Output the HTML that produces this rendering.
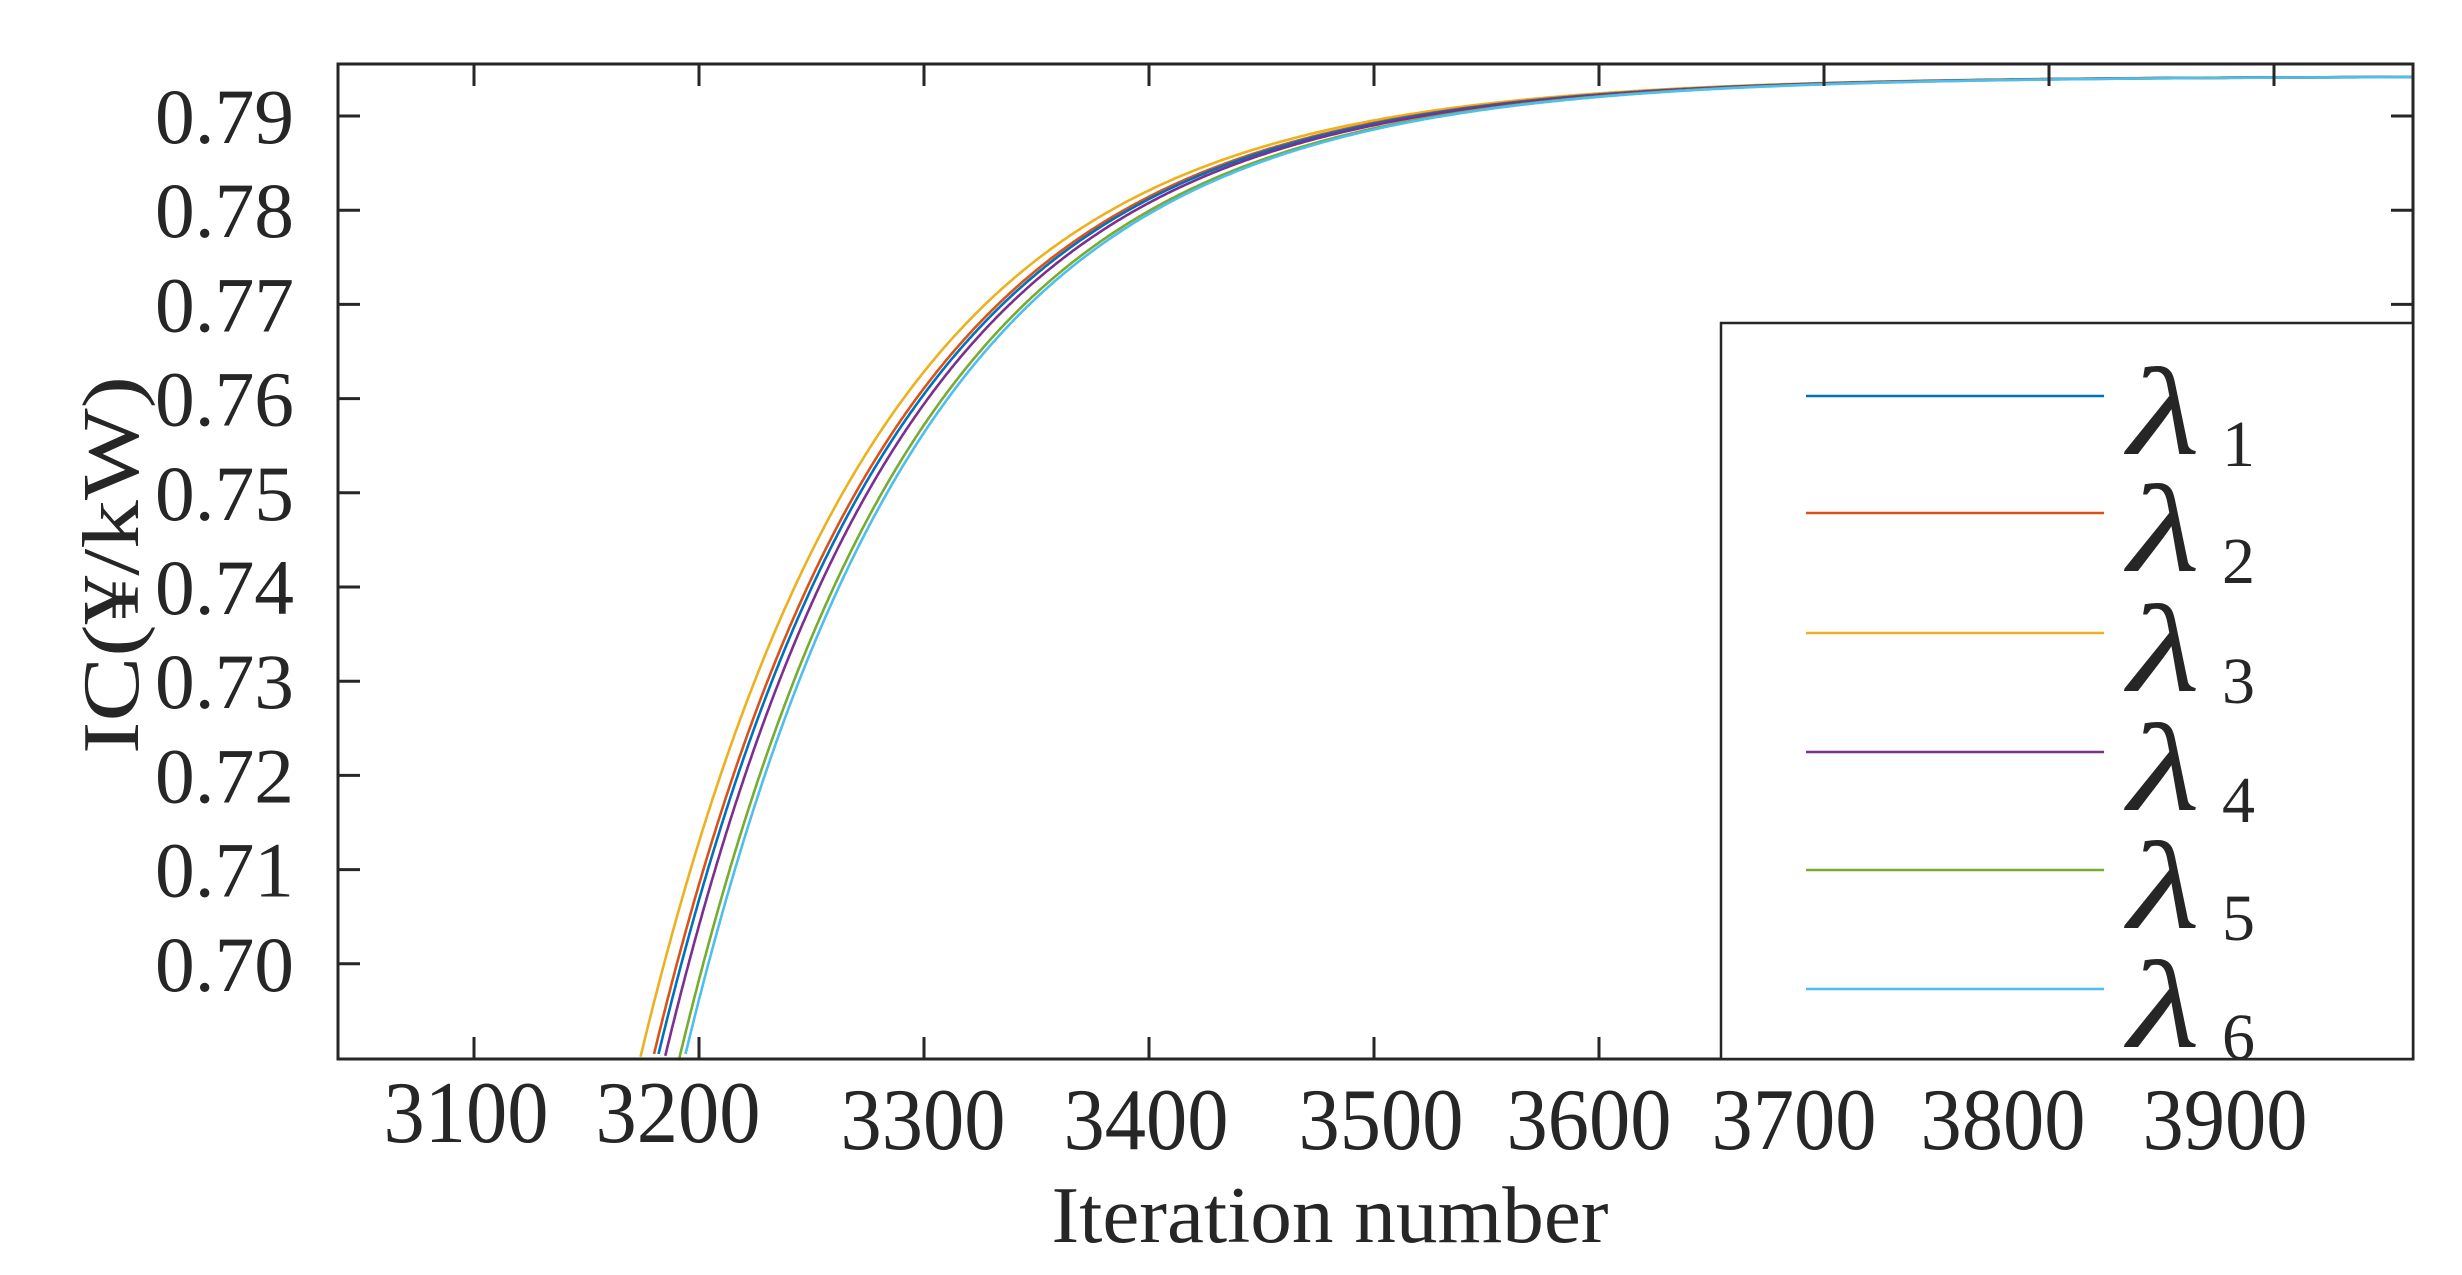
<!DOCTYPE html>
<html><head><meta charset="utf-8"><style>
html,body{margin:0;padding:0;background:#fff;}
svg{display:block;}
text{font-family:"Liberation Serif",serif;fill:#262626;}
</style></head><body>
<svg id="s" width="2462" height="1275" viewBox="0 0 2462 1275" xmlns="http://www.w3.org/2000/svg">
<rect x="0" y="0" width="2462" height="1275" fill="#fff"/>
<g id="curves"></g>
<g id="ticks" stroke="#262626" stroke-width="3"></g>
<rect x="338" y="64" width="2075" height="995" fill="none" stroke="#262626" stroke-width="3"/>
<g id="legend">
<rect x="1721" y="323" width="692" height="736" fill="#fff" stroke="#262626" stroke-width="2.5"/>
</g>
<g id="labels"></g>
<text x="112" y="565" font-size="80" text-anchor="middle" transform="rotate(-90 112 565)" dominant-baseline="central" textLength="378" lengthAdjust="spacingAndGlyphs">IC(¥/kW)</text>
<text x="1330" y="1242" font-size="80" text-anchor="middle" textLength="557" lengthAdjust="spacingAndGlyphs">Iteration number</text>
</svg>
<script>
var NS="http://www.w3.org/2000/svg";
function el(t,a,p,txt){var e=document.createElementNS(NS,t);for(var k in a)e.setAttribute(k,a[k]);if(txt!==undefined)e.textContent=txt;p.appendChild(e);return e;}
var L=338,R=2413,T=64,B=1059;
function px(x){return 474+(x-3100)*2.25;}
function py(v){return 116+(0.79-v)*9420;}
var cols=["#0072BD","#D95319","#EDB120","#7E2F8E","#77AC30","#4DBEEE"];
var shifts=[7.7,5.7,0,10.9,17.4,19.7];
var g=document.getElementById("curves");
var order=[2,1,0,3,4,5];
order.forEach(function(i){
  var d="",first=true;
  for(var x=3140;x<=3962;x+=1){
    var xx=x-shifts[i]+2;
    var v=0.7942-0.0828*Math.exp(-(xx-3200)/105);
    var Y=py(v); if(Y>B+2) continue;
    d+=(first?"M":"L")+px(x).toFixed(1)+" "+Y.toFixed(1)+" ";first=false;
  }
  el("path",{d:d,fill:"none",stroke:cols[i],"stroke-width":2.6},g);
});
var tk=document.getElementById("ticks"),lb=document.getElementById("labels");
var xl=[[3100,466],[3200,678],[3300,923],[3400,1146],[3500,1381],[3600,1589],[3700,1794],[3800,2003],[3900,2225]];
xl.forEach(function(a,j){var X=px(a[0]);
  el("line",{x1:X,y1:B,x2:X,y2:B-22},tk);el("line",{x1:X,y1:T,x2:X,y2:T+22},tk);
  el("text",{x:a[1],y:j<2?1142:1149,"text-anchor":"middle","font-size":88,textLength:165,lengthAdjust:"spacingAndGlyphs"},lb,String(a[0]));
});
for(var k=0;k<10;k++){var v=0.70+k*0.01,Y=py(v);
  el("line",{x1:L,y1:Y,x2:L+22,y2:Y},tk);el("line",{x1:R,y1:Y,x2:R-22,y2:Y},tk);
  el("text",{x:294,y:Y+27,"text-anchor":"end","font-size":78,textLength:139,lengthAdjust:"spacingAndGlyphs"},lb,v.toFixed(2));
}
var lg=document.getElementById("legend");
var ly=[396,513,633,752,870,989];
ly.forEach(function(y,i){
  el("line",{x1:1806,y1:y,x2:2104,y2:y,stroke:cols[i],"stroke-width":2.5},lg);
  el("text",{x:2128,y:y+58,"font-size":125,"font-style":"italic",textLength:72,lengthAdjust:"spacingAndGlyphs"},lg,"λ");
  el("text",{x:2222,y:y+70,"font-size":66},lg,String(i+1));
});
</script>
</body></html>
